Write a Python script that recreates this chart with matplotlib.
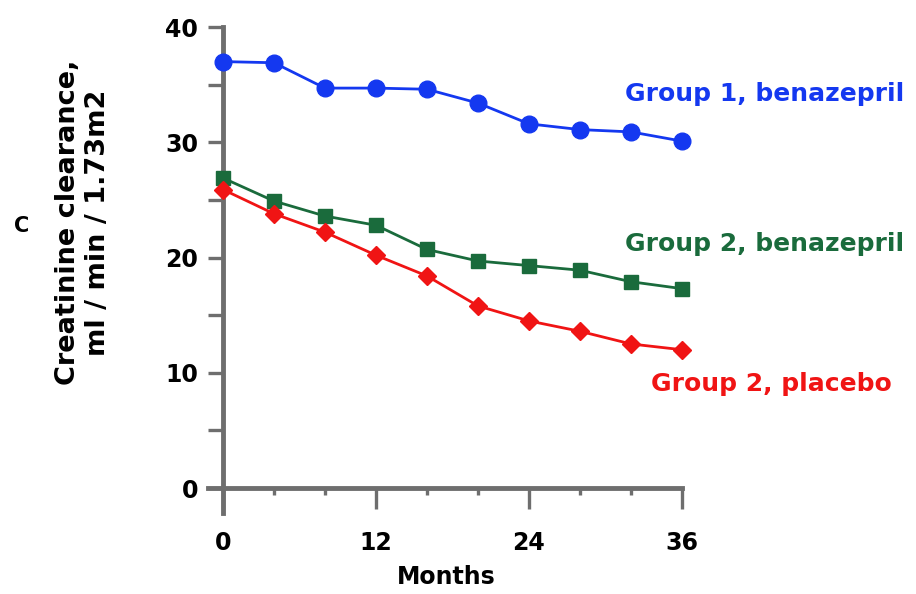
import numpy as np
import matplotlib
matplotlib.use('Agg')
import matplotlib.pyplot as plt
from matplotlib.ticker import FixedLocator

# data
months = [0, 4, 8, 12, 16, 20, 24, 28, 32, 36]
group1Benazepril = [37.0, 36.9, 34.7, 34.7, 34.6, 33.4, 31.6, 31.1, 30.9, 30.1]
group2Benazepril = [26.9, 24.9, 23.6, 22.8, 20.7, 19.7, 19.3, 18.9, 17.9, 17.3]
group2Placebo = [25.9, 23.8, 22.2, 20.2, 18.4, 15.8, 14.5, 13.6, 12.5, 12.0]
group1Err = [0.5, 0.4, 0.5, 0.5, 0.4, 0.6, 0.6, 0.6, 0.5, 0.4]
group2BenErr = [0.5, 0.5, 0.5, 0.5, 0.6, 0.5, 0.6, 0.6, 0.5, 0.5]
group2PlaErr = [0.6, 0.7, 0.7, 0.6, 0.7, 0.7, 0.7, 0.7, 0.7, 0.7]

seriesLabels = ['Group 1, benazepril', 'Group 2, benazepril', 'Group 2, placebo']
xMajorTicks = [0, 12, 24, 36]
xMinorTicks = [4, 8, 16, 20, 28, 32]
yMajorTicks = [0, 10, 20, 30, 40]
yMinorTicks = [5, 15, 25, 35]

blue = '#1438f0'
green = '#1a6b3c'
red = '#f01414'
axisGray = '#6e6e6e'

plt.rcParams['font.family'] = ['DejaVu Sans']

fig = plt.figure(figsize=(9.16, 5.94), dpi=100)
ax = fig.add_axes([0.2267, 0.1357, 0.5206, 0.8227])

ax.errorbar(months, group1Benazepril, yerr=group1Err, color=blue, marker='o', markersize=12,
            linewidth=2, elinewidth=2, capsize=0, clip_on=False, zorder=3)
ax.errorbar(months, group2Benazepril, yerr=group2BenErr, color=green, marker='s', markersize=10.5,
            linewidth=2, elinewidth=2, capsize=0, clip_on=False, zorder=3)
ax.errorbar(months, group2Placebo, yerr=group2PlaErr, color=red, marker='D', markersize=9.5,
            linewidth=2, elinewidth=2, capsize=0, clip_on=False, zorder=3)

ax.set_xlim(-1.2, 36.2)
ax.set_ylim(-2.2, 40.2)

for side in ['top', 'right']:
    ax.spines[side].set_visible(False)
ax.spines['left'].set_position(('data', 0))
ax.spines['bottom'].set_position(('data', 0))
ax.spines['left'].set_bounds(-2.2, 40)
ax.spines['bottom'].set_bounds(-1.2, 36)
for side in ['left', 'bottom']:
    ax.spines[side].set_color(axisGray)
    ax.spines[side].set_linewidth(3.5)

ax.xaxis.set_major_locator(FixedLocator(xMajorTicks))
ax.xaxis.set_minor_locator(FixedLocator(xMinorTicks))
ax.yaxis.set_major_locator(FixedLocator(yMajorTicks))
ax.yaxis.set_minor_locator(FixedLocator(yMinorTicks))

ax.tick_params(axis='x', which='major', direction='out', length=15, width=2.4, color=axisGray,
               pad=16, labelsize=17)
ax.tick_params(axis='x', which='minor', direction='out', length=5, width=2.4, color=axisGray)
ax.tick_params(axis='y', which='both', direction='out', length=11, width=2.4, color=axisGray,
               pad=7, labelsize=17)
for lab in ax.get_xticklabels() + ax.get_yticklabels():
    lab.set_fontweight('bold')

ax.set_xlabel('Months', fontsize=17, fontweight='bold', labelpad=7)

fig.text(0.091, 0.625, 'Creatinine clearance,\nml / min / 1.73m2', rotation=90, ha='center',
         va='center', fontsize=19.5, fontweight='bold', linespacing=1.2)
fig.text(0.024, 0.62, 'C', ha='center', va='center', fontsize=15, fontweight='bold')

ax.text(31.5, 34.2, seriesLabels[0], color=blue, fontsize=18, fontweight='bold',
        va='center', ha='left', clip_on=False)
ax.text(31.5, 21.2, seriesLabels[1], color=green, fontsize=18, fontweight='bold',
        va='center', ha='left', clip_on=False)
ax.text(33.6, 9.0, seriesLabels[2], color=red, fontsize=18, fontweight='bold',
        va='center', ha='left', clip_on=False)

fig.savefig('out.png', dpi=100)
